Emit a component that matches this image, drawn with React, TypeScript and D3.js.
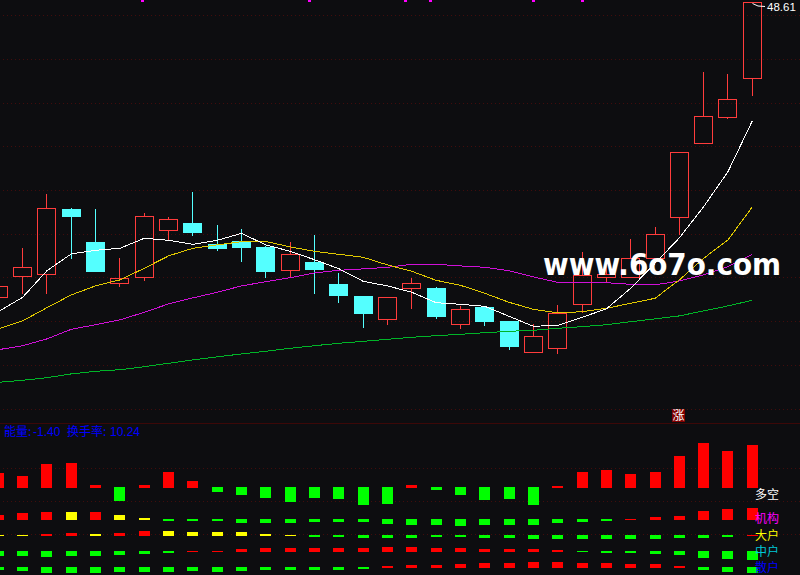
import React from "react";
import * as d3 from "d3";

const W = 800;
const H = 575;

// price candles (oldest to newest)
const opens = [33.87,34.95,35.05,38.29,36.64,34.57,34.87,37.25,37.59,36.54,36.69,36.39,35.22,35.64,34.54,33.94,32.77,34.32,34.34,32.52,33.39,32.69,31.12,31.32,33.52,34.87,34.87,35.82,37.90,41.60,42.90,44.85];
const closes = [34.42,35.37,38.32,37.90,35.15,34.82,37.92,37.77,37.10,36.30,36.35,35.15,36.02,35.25,33.95,33.05,33.87,34.57,32.90,33.27,32.65,31.40,31.92,33.07,34.97,35.02,35.82,37.02,41.15,42.92,43.77,48.62];
const highs = [34.44,36.32,39.04,38.34,38.29,35.84,38.09,37.89,39.14,37.49,37.27,36.44,36.64,36.99,35.09,33.94,33.87,34.84,34.39,33.44,33.39,32.69,32.52,33.49,36.12,35.52,36.77,37.37,41.15,45.14,45.04,48.62];
const lows = [33.86,34.10,34.10,35.85,35.15,34.45,34.75,36.74,37.00,36.25,35.70,34.90,34.95,34.10,33.65,32.40,32.55,33.35,32.85,32.35,32.50,31.30,31.12,31.10,33.12,34.70,34.87,35.70,37.04,41.60,42.85,43.98];

// moving averages
const ma5 = [33.15,33.87,35.20,36.04,36.22,36.32,36.82,36.72,36.52,36.72,37.07,36.49,36.17,35.75,35.30,34.67,34.44,34.12,33.60,33.52,33.42,32.92,32.42,32.47,32.87,33.29,34.32,35.57,36.84,38.40,40.15,42.69];
const ma10 = [32.29,32.69,33.35,33.99,34.44,34.74,35.32,35.94,36.32,36.49,36.65,36.66,36.39,36.17,36.02,35.87,35.49,35.17,34.72,34.47,34.07,33.62,33.27,33.09,33.15,33.32,33.57,33.82,34.74,35.82,36.74,38.39];
const ma30 = [31.25,31.45,31.79,32.27,32.50,32.74,33.12,33.54,33.84,34.12,34.44,34.65,34.85,35.09,35.22,35.29,35.37,35.52,35.52,35.44,35.37,35.20,34.89,34.62,34.62,34.60,34.52,34.49,34.69,34.99,35.40,36.02];
const ma60 = [29.62,29.72,29.85,30.04,30.17,30.25,30.40,30.57,30.74,30.89,31.04,31.17,31.32,31.45,31.57,31.67,31.77,31.87,31.95,32.02,32.10,32.17,32.22,32.32,32.40,32.50,32.65,32.79,32.94,33.19,33.44,33.72];

const gridPrices = [47.99,45.79,43.59,41.44,39.24,37.04,34.89,32.69,30.49,28.29];
const lowerGrid = [2,-1.3,-4.6];
const markerIndex = [5.89,12.79,16.74,17.73,21.97,24.0];
const riseFlagIndex = 28;

// flow panels
const longShort = [1.5,1.2,2.4,2.5,0.3,-1.4,0.3,1.6,0.7,-0.5,-0.8,-1.1,-1.5,-1.1,-1.2,-1.8,-1.7,0.3,-0.3,-0.8,-1.3,-1.2,-1.8,0.2,1.6,1.8,1.4,1.6,3.2,4.5,3.7,4.3];
const institution = [0.5,0.7,0.8,0.8,0.8,0.5,0.2,-0.2,-0.2,-0.2,-0.4,-0.4,-0.4,-0.3,-0.3,-0.3,-0.5,-0.6,-0.6,-0.7,-0.6,-0.6,-0.6,-0.4,-0.3,-0.2,0.1,0.3,0.4,0.9,1.1,1.2];
const large = [0.1,0.1,0.2,0.3,0.2,0.3,0.5,0.5,0.4,0.4,0.4,0.2,0.1,-0.2,-0.2,-0.3,-0.3,-0.3,-0.2,-0.2,-0.3,-0.3,-0.4,-0.4,-0.4,-0.4,-0.4,-0.4,-0.3,-0.3,-0.2,0.1];
const medium = [-0.5,-0.5,-0.6,-0.5,-0.5,-0.4,-0.3,-0.2,0.1,0.1,0.3,0.4,0.4,0.4,0.4,0.4,0.5,0.5,0.4,0.4,0.3,0.3,0.3,0.2,-0.1,-0.2,-0.2,-0.3,-0.4,-0.7,-0.8,-0.9];
const retail = [-0.3,-0.4,-0.6,-0.6,-0.6,-0.5,-0.5,-0.5,-0.4,-0.5,-0.4,-0.3,-0.3,-0.3,-0.3,-0.2,0.2,0.3,0.3,0.4,0.5,0.5,0.6,0.6,0.5,0.5,0.4,0.4,0.2,-0.3,-0.5,-0.6];
const institutionYellow = [3,5,6];
const largeYellow = [0,1,4,7,8,9,10,11,12];

const panelLabels = ["多空","机构","大户","中户","散户"];
const labelColors = ["#ffffff","#ff00ff","#ffff00","#00c8d8","#0000ff"];
const energyValue = "-1.40";
const turnoverValue = "10.24";
const lastPrice = "48.61";

const BG = "#0d0d10";
const RED = "#ff3c3c";
const CYAN = "#54ffff";
const GRID = "#420c0c";

const x = d3.scaleLinear().domain([0, 31]).range([-1.7, 752.3]);
const y = d3.scaleLinear().domain([48.735, 19.985]).range([0, 575]);
const line = d3.line<number>().x((_, i) => x(i)).y((d) => y(d));
const unit = d3.scaleLinear().domain([0, 1]).range([0, 10]);

const rows = [
  { values: longShort, base: 487, yellow: [] as number[] },
  { values: institution, base: 519, yellow: institutionYellow },
  { values: large, base: 535, yellow: largeYellow },
  { values: medium, base: 551, yellow: [] as number[] },
  { values: retail, base: 567, yellow: [] as number[] },
];
const labelY = [499, 523, 540, 556, 572];

export default function App() {
  const fontCJK = '"Noto Sans CJK SC", sans-serif';
  return (
    <svg width={W} height={H} style={{ position: "fixed", left: 0, top: 0, display: "block", background: BG }}>
      <rect width={W} height={H} fill={BG} />
      <g shapeRendering="crispEdges">
        {gridPrices.map((p) => (
          <line key={p} x1={3} x2={W} y1={Math.round(y(p)) + 0.5} y2={Math.round(y(p)) + 0.5} stroke={GRID} strokeDasharray="1 3" />
        ))}
        {lowerGrid.map((v) => (
          <line key={v} x1={3} x2={W} y1={Math.round(488 - unit(v)) + 0.5} y2={Math.round(488 - unit(v)) + 0.5} stroke={GRID} strokeDasharray="1 3" />
        ))}
        <line x1={0} x2={W} y1={423.5} y2={423.5} stroke="#3c0808" />
        {markerIndex.map((m) => (
          <rect key={m} x={Math.round(x(m)) - 1} y={0} width={3} height={2} fill="#ff00ff" />
        ))}
        {opens.map((o, i) => {
          const c = closes[i];
          const up = c > o;
          const f = Math.floor(x(i));
          const top = Math.round(y(Math.max(o, c)));
          const bot = Math.round(y(Math.min(o, c)));
          const hi = Math.round(y(highs[i]));
          const lo = Math.round(y(lows[i]));
          const col = up ? RED : CYAN;
          return (
            <g key={i}>
              {hi < top && <rect x={f} y={hi} width={1} height={top - hi} fill={col} />}
              {lo > bot && <rect x={f} y={bot} width={1} height={lo - bot + 1} fill={col} />}
              {up ? (
                <rect x={f - 8.5} y={top + 0.5} width={18} height={Math.max(bot - top, 1)} fill="none" stroke={col} />
              ) : (
                <rect x={f - 9} y={top} width={19} height={Math.max(bot - top, 1)} fill={col} />
              )}
            </g>
          );
        })}
        {rows.map((r, ri) =>
          r.values.map((v, i) => {
            const bx = Math.round(x(i) - 5.5);
            const h = Math.round(unit(Math.abs(v)));
            const fill = v < 0 ? "#00ff00" : r.yellow.includes(i) ? "#ffff00" : "#ff0000";
            return (
              <rect key={`${ri}-${i}`} x={bx} y={v > 0 ? r.base + 1 - h : r.base} width={11} height={h} fill={fill} />
            );
          })
        )}
      </g>

      <g fill="none" strokeWidth={1} shapeRendering="crispEdges">
        <path d={line(ma60) || ""} stroke="#00b428" />
        <path d={line(ma30) || ""} stroke="#d010d8" />
        <path d={line(ma10) || ""} stroke="#e0c800" />
        <path d={line(ma5) || ""} stroke="#ffffff" />
      </g>

      <path d="M752.5 3.5 L758 6 L765 6.5" fill="none" stroke="#ffffff" strokeWidth={1} />
      <text x={767} y={11} fill="#ffffff" fontFamily="'Liberation Sans', sans-serif" fontSize={11.5}>{lastPrice}</text>

      <rect x={Math.round(x(riseFlagIndex)) - 7} y={409} width={13} height={13} fill="#800000" />
      <text x={Math.round(x(riseFlagIndex)) - 0.5} y={420} textAnchor="middle" fill="#ffffff" fontFamily={fontCJK} fontSize={12}>涨</text>

      <text y={436} fill="#0000ff" fontFamily={fontCJK} fontSize={12}>
        <tspan x={4}>能量:</tspan>
        <tspan x={33} fontFamily="'Liberation Sans', sans-serif">{energyValue}</tspan>
        <tspan x={67}>换手率:</tspan>
        <tspan x={110} fontFamily="'Liberation Sans', sans-serif">{turnoverValue}</tspan>
      </text>

      {panelLabels.map((t, i) => (
        <text key={t} x={755} y={labelY[i]} fill={labelColors[i]} fontFamily={fontCJK} fontSize={12}>{t}</text>
      ))}

      <text x={543} y={275} fill="#ffffff" fontFamily="'DejaVu Sans', sans-serif" fontWeight="bold" fontSize={30} textLength={238} lengthAdjust="spacingAndGlyphs">www.6o7o.com</text>
    </svg>
  );
}
